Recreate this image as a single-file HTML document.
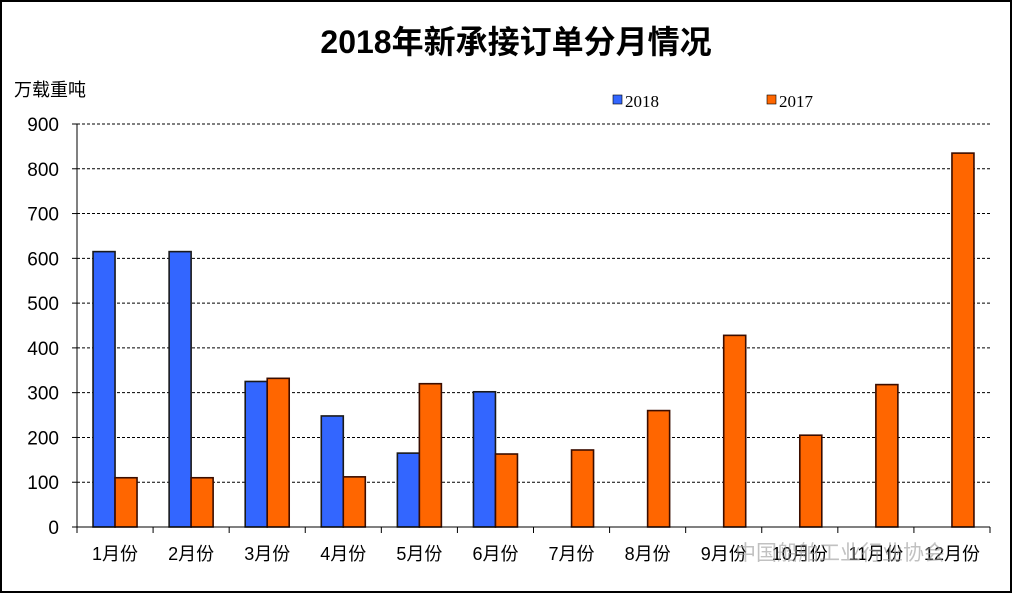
<!DOCTYPE html>
<html><head><meta charset="utf-8"><style>
body{margin:0;background:#fff}
svg{display:block;font-family:"Liberation Sans","Noto Sans CJK SC",sans-serif}
</style></head><body>
<svg width="1016" height="594" viewBox="0 0 1016 594">
<rect x="1" y="1" width="1010" height="591" fill="#fff" stroke="#000" stroke-width="2"/>
<text x="516" y="53" text-anchor="middle" font-size="32" font-weight="bold">2018年新承接订单分月情况</text>
<text x="14" y="96" font-size="18">万载重吨</text>
<g>
<rect x="613" y="95" width="9" height="9" fill="#3366ff" stroke="#000" stroke-width="0.6"/>
<text x="625" y="107" font-size="17" font-family="Liberation Serif, serif">2018</text>
<rect x="767" y="95" width="9" height="9" fill="#ff6600" stroke="#000" stroke-width="0.6"/>
<text x="779" y="107" font-size="17" font-family="Liberation Serif, serif">2017</text>
</g>
<g id="grid"></g><g id="bars"></g><g id="axes"></g>
<text x="735" y="560" font-size="21" fill="#999" opacity="0.6">中国船舶工业行业协会</text>
</svg>
<script>
const categories=["1月份","2月份","3月份","4月份","5月份","6月份","7月份","8月份","9月份","10月份","11月份","12月份"];
const values2018=[615,615,325,248,165,302,null,null,null,null,null,null];
const values2017=[110,110,332,112,320,163,172,260,428,205,318,835];
const yTicks=[0,100,200,300,400,500,600,700,800,900];
const X0=77,X1=990,Y0=527,Y1=124,YMAX=900;
const ns="http://www.w3.org/2000/svg";
const bw=(X1-X0)/categories.length;
const y=v=>Y0-(v/YMAX)*(Y0-Y1);
const xc=i=>X0+bw*(i+0.5);
function mk(tag,attrs,parent){const e=document.createElementNS(ns,tag);for(const k in attrs)e.setAttribute(k,attrs[k]);document.getElementById(parent).appendChild(e);return e;}
yTicks.forEach(t=>{
  if(t>0){const l=mk('line',{x1:X0,x2:X1,y1:y(t),y2:y(t),stroke:'#000','stroke-width':1,'stroke-dasharray':'3,2'},'grid');
  
  }
  const tk=mk('line',{x1:X0-5,x2:X0,y1:y(t),y2:y(t),stroke:'#000'},'axes');
  
  
  const tx=mk('text',{x:X0-18,y:y(t)+7,'text-anchor':'end','font-size':19},'axes');
  tx.textContent=t;
  
  
});
const BW=22;
categories.forEach((c,i)=>{
  if(values2018[i]!=null){const r=mk('rect',{x:xc(i)-BW,y:y(values2018[i]),width:BW,height:Y0-y(values2018[i]),fill:'#3366ff',stroke:'#1a1a1a','stroke-width':1.6},'bars');
  
  }
  if(values2017[i]!=null){const r=mk('rect',{x:xc(i),y:y(values2017[i]),width:BW,height:Y0-y(values2017[i]),fill:'#ff6600',stroke:'#3a0d00','stroke-width':1.6},'bars');
  
  }
  const tx=mk('text',{x:xc(i),y:560,'text-anchor':'middle','font-size':18},'axes');
  tx.textContent=c;
  
  
});
for(let i=0;i<=categories.length;i++){const t=mk('line',{x1:X0+bw*i,x2:X0+bw*i,y1:Y0,y2:Y0+6,stroke:'#000'},'axes');

}
const ax=mk('line',{x1:X0,x2:X0,y1:Y1,y2:Y0,stroke:'#000'},'axes');


const bx=mk('line',{x1:X0,x2:X1,y1:Y0,y2:Y0,stroke:'#000'},'axes');


</script>
</body></html>
